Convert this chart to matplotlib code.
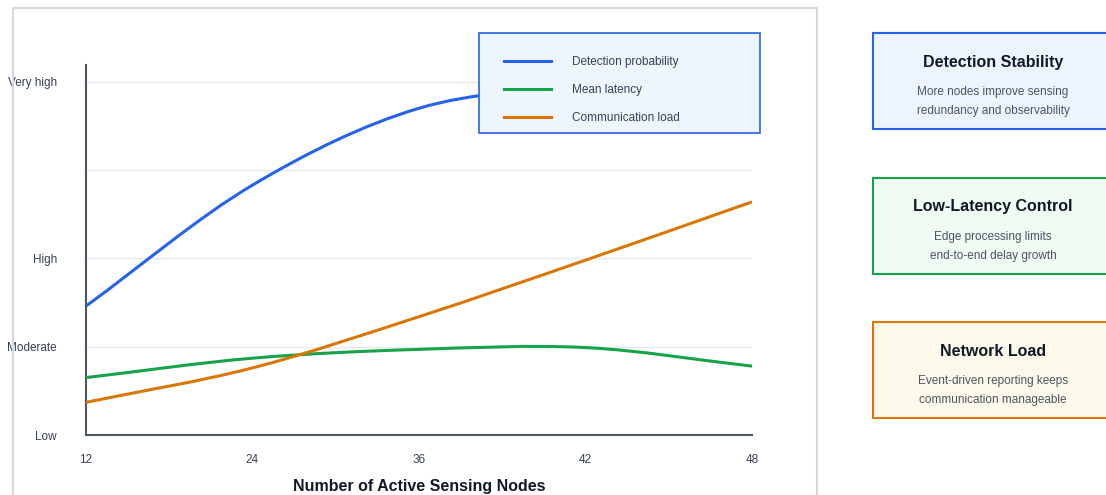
import numpy as np
import matplotlib
matplotlib.use("Agg")
import matplotlib.pyplot as plt
from matplotlib.path import Path
from matplotlib.patches import PathPatch, Rectangle
from matplotlib.lines import Line2D

plt.rcParams['font.family'] = ['Liberation Sans', 'DejaVu Sans']

# data (0=Low, 1=Moderate, 2=High, 4=Very high)
nodes = ['12', '24', '36', '42', '48']
detection = [1.46, 2.83, 3.70, 3.95, 4.05]
latency = [0.65, 0.87, 0.97, 0.99, 0.78]
comm_load = [0.37, 0.76, 1.34, 1.98, 2.64]
ylevels = [0, 1, 2, 4]
ylevel_names = ['Low', 'Moderate', 'High', 'Very high']
series_names = ['Detection probability', 'Mean latency', 'Communication load']
series_colors = ['#2563eb', '#16a34a', '#d97706']

cards = [
    ('Detection Stability', 'More nodes improve sensing\nredundancy and observability', '#eef4ff', '#2563eb'),
    ('Low-Latency Control', 'Edge processing limits\nend-to-end delay growth', '#effbf3', '#16a34a'),
    ('Network Load', 'Event-driven reporting keeps\ncommunication manageable', '#fdf9ea', '#d97706'),
]


def smooth_path(x, y):
    # catmull-rom style tangents, chord slope at the ends, drawn as bezier segments
    x = np.asarray(x, float); y = np.asarray(y, float)
    h = np.diff(x); s = np.diff(y) / h
    n = len(x)
    t = np.zeros(n)
    t[0] = s[0]
    t[-1] = s[-1]
    for i in range(1, n - 1):
        t[i] = (y[i+1] - y[i-1]) / (x[i+1] - x[i-1])
    verts = [(x[0], y[0])]
    codes = [Path.MOVETO]
    for i in range(n - 1):
        d = h[i] / 3
        verts += [(x[i]+d, y[i]+d*t[i]), (x[i+1]-d, y[i+1]-d*t[i+1]), (x[i+1], y[i+1])]
        codes += [Path.CURVE4]*3
    return Path(verts, codes)


W, H = 1106, 495
fig = plt.figure(figsize=(W/100, H/100), dpi=100)

# outer panel around the chart
fig.patches.append(Rectangle((13/W, -0.1), 804/W, 1 - 8/H + 0.1, transform=fig.transFigure,
                             fill=False, ec='#d3dae5', lw=1.5, zorder=0.5))

ax = fig.add_axes([86/W, 1 - 435/H, 666/W, 370/H])
xpos = np.arange(len(nodes))
for vals, c in zip([detection, latency, comm_load], series_colors):
    ax.add_patch(PathPatch(smooth_path(xpos, vals), fill=False, ec=c, lw=2.2,
                           capstyle='butt', zorder=3))

ax.set_xlim(0, 4)
ax.set_ylim(0, 4.19)
for yv in [1, 2, 3, 4]:
    ax.axhline(yv, color='#e6e8ec', lw=1, zorder=1)
ax.set_xticks(xpos)
ax.set_xticklabels(nodes)
ax.set_yticks(ylevels)
ax.set_yticklabels(ylevel_names)
ax.tick_params(length=0, labelsize=8.5, colors='#374151')
ax.tick_params(axis='x', pad=14)
ax.tick_params(axis='y', pad=21)
for sp in ['top', 'right']:
    ax.spines[sp].set_visible(False)
for sp in ['left', 'bottom']:
    ax.spines[sp].set_color('#4b5563')
    ax.spines[sp].set_linewidth(1.5)
ax.set_xlabel('Number of Active Sensing Nodes', fontsize=11.5, fontweight='bold',
              color='#111827', labelpad=9)

# legend box (covers the end of the blue line like in the reference)
fig.patches.append(Rectangle((479/W, 1 - 133/H), 281/W, 100/H, transform=fig.transFigure,
                             fc='#eef5ff', ec='#2563eb', lw=1.2, zorder=2))
handles = [Line2D([], [], color=c, lw=2.2) for c in series_colors]
leg = fig.legend(handles, series_names, loc='upper left',
                 bbox_to_anchor=(504/W, 1 - 56/H), bbox_transform=fig.transFigure,
                 fontsize=8.5, labelcolor='#374151', handlelength=4.0, handletextpad=1.78,
                 labelspacing=1.36, borderpad=0, borderaxespad=0, frameon=False)
leg.set_zorder(3)

# note cards on the right
tops = [33, 178, 322]
for (title, body, fc, ec), top in zip(cards, tops):
    fig.patches.append(Rectangle((873/W, 1 - (top + 96)/H), 260/W, 96/H,
                                 transform=fig.transFigure, fc=fc, ec=ec, lw=1.5))
    fig.text(993/W, 1 - (top + 29)/H, title, ha='center', va='center',
             fontsize=11.5, fontweight='bold', color='#111827')
    fig.text(993/W, 1 - (top + 68.5)/H, body, ha='center', va='center',
             fontsize=8.5, color='#4b5563', linespacing=1.77)

fig.savefig('out.png', dpi=100)
